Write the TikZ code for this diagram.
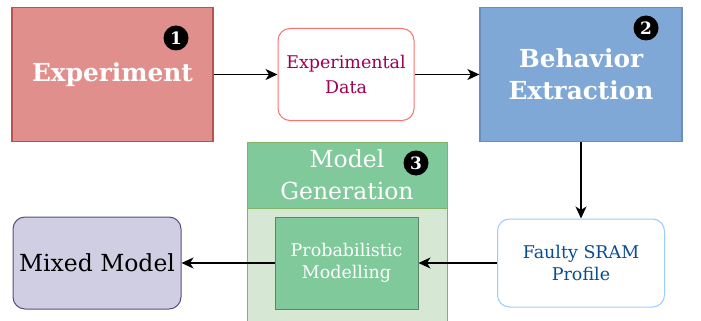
\documentclass[tikz,border=0pt]{standalone}
\usepackage{fontspec}
\setmainfont{DejaVu Serif}
\usepackage{tikz}
\usetikzlibrary{arrows.meta}
\definecolor{expfill}{HTML}{E18F8C}
\definecolor{expline}{HTML}{B85450}
\definecolor{datline}{HTML}{FF7070}
\definecolor{dattext}{HTML}{9E0052}
\definecolor{behfill}{HTML}{7FA8D7}
\definecolor{behline}{HTML}{6C8EBF}
\definecolor{genhead}{HTML}{7FC99B}
\definecolor{genbody}{HTML}{D6E8D4}
\definecolor{genline}{HTML}{82B366}
\definecolor{proline}{HTML}{5B8569}
\definecolor{mixfill}{HTML}{D0CEE2}
\definecolor{mixline}{HTML}{56517E}
\definecolor{fauline}{HTML}{99CCFF}
\definecolor{fautext}{HTML}{0A4C94}
\tikzset{
  font={\fontsize{17.5pt}{22}\selectfont}}

\begin{document}
\begin{tikzpicture}[x=1pt,y=1pt]
\tikzstyle{every node}+=[inner sep=0pt, align=center]
\tikzstyle{stage}=[draw, line width=1.3pt, minimum width=201, minimum height=134, text=white, font={\fontsize{24.8pt}{32}\selectfont\bfseries}]
\tikzstyle{soft}=[draw, rounded corners=12, line width=1pt, minimum height=92]
\tikzstyle{badge}=[circle, fill=black, text=white, minimum size=25, font={\fontsize{17pt}{17}\selectfont\bfseries}]
\tikzstyle{flow}=[black, line width=1.4pt, -{Stealth[length=12pt, width=11pt, inset=3.5pt]}]
\useasboundingbox (0,0) rectangle (701,-321);
% top row
\node [stage, fill=expfill, draw=expline] (exp) at (112.5,-74.5) {Experiment};
\node [badge] (one) at (176,-38) {1};
\node [soft, draw=datline, fill=white, text=dattext, minimum width=136, font={\fontsize{17.5pt}{25}\selectfont}] (data) at (346,-74.5) {Experimental\\Data};
\node [stage, fill=behfill, draw=behline, minimum width=202] (beh) at (581,-74.5) {Behavior\\Extraction};
\node [badge] (two) at (646,-28) {2};
% model generation
\node [draw=genline, fill=genbody, line width=1pt, minimum width=200, minimum height=130] (genbody) at (347,-273) {};
\node [draw=genline, fill=genhead, line width=1pt, minimum width=200, minimum height=66, text=white, font={\fontsize{23.5pt}{32}\selectfont}] (gen) at (347,-175) {Model\\Generation};
\node [badge] (three) at (416,-163) {3};
\node [draw=proline, fill=genhead, line width=1pt, minimum width=143, minimum height=92, text=white, font={\fontsize{17.5pt}{22}\selectfont}] (prob) at (346.5,-263) {Probabilistic\\Modelling};
% bottom row
\node [soft, draw=mixline, fill=mixfill, minimum width=168, font={\fontsize{23.5pt}{22}\selectfont}] (mix) at (97,-263) {Mixed Model};
\node [soft, draw=fauline, fill=white, text=fautext, minimum width=167, minimum height=88, font={\fontsize{17.5pt}{22}\selectfont}] (faulty) at (581,-263) {Faulty SRAM\\Profile};
% arrows
\draw [flow] (exp) -- (data);
\draw [flow] (data) -- (beh);
\draw [flow] (beh) -- (faulty);
\draw [flow] (faulty) -- (prob);
\draw [flow] (prob) -- (mix);
\end{tikzpicture}
\end{document}
